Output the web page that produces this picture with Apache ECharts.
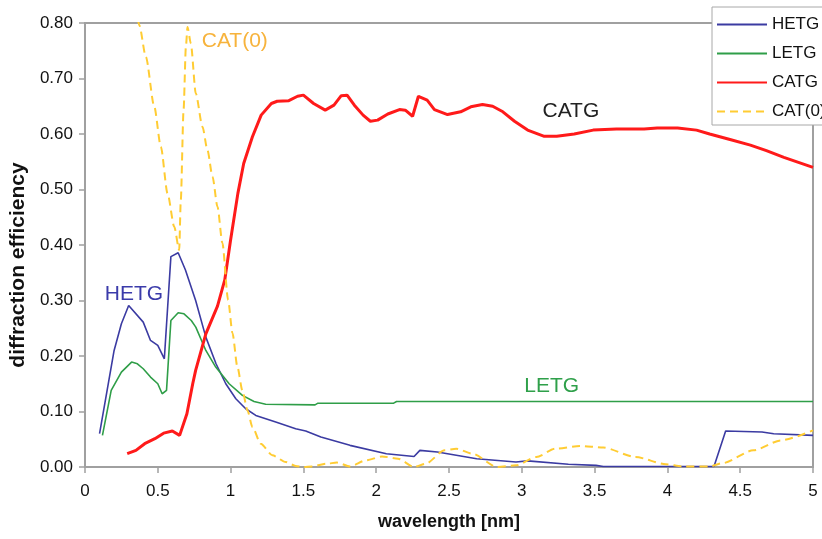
<!DOCTYPE html>
<html>
<head>
<meta charset="utf-8">
<title>diffraction efficiency</title>
<script src="https://cdn.jsdelivr.net/npm/echarts@6/dist/echarts.min.js"></script>
<style>
  html, body { margin: 0; padding: 0; background: #fff; }
  #chart { width: 822px; height: 539px; }
</style>
</head>
<body>
<div id="chart"></div>
<script>
// wavelength [nm] / efficiency
const hetgX = [0.10, 0.20, 0.25, 0.30, 0.40, 0.45, 0.50, 0.545, 0.59, 0.64, 0.69, 0.76, 0.83, 0.90, 0.967, 1.036, 1.104, 1.173, 1.31, 1.447, 1.516, 1.62, 1.82, 2.07, 2.26, 2.30, 2.42, 2.69, 2.96, 3.04, 3.32, 3.51, 3.56, 4.32, 4.40, 4.65, 4.73, 5.00]
const hetgY = [0.060, 0.210, 0.258, 0.291, 0.261, 0.228, 0.219, 0.195, 0.379, 0.386, 0.355, 0.300, 0.234, 0.186, 0.150, 0.123, 0.105, 0.093, 0.081, 0.069, 0.065, 0.054, 0.039, 0.024, 0.019, 0.030, 0.027, 0.015, 0.009, 0.011, 0.005, 0.003, 0.001, 0.001, 0.065, 0.063, 0.060, 0.057]

const letgX = [0.12, 0.18, 0.25, 0.32, 0.36, 0.40, 0.45, 0.50, 0.53, 0.56, 0.57, 0.59, 0.64, 0.68, 0.73, 0.761, 0.83, 0.898, 0.99, 1.081, 1.161, 1.241, 1.58, 1.60, 2.12, 2.14, 5.00]
const letgY = [0.057, 0.138, 0.171, 0.189, 0.186, 0.177, 0.162, 0.150, 0.132, 0.138, 0.180, 0.264, 0.278, 0.276, 0.264, 0.252, 0.210, 0.180, 0.150, 0.129, 0.118, 0.113, 0.112, 0.115, 0.115, 0.118, 0.118]

const catgX = [0.29, 0.35, 0.41, 0.48, 0.54, 0.60, 0.65, 0.70, 0.74, 0.76, 0.83, 0.91, 0.96, 1.00, 1.05, 1.09, 1.15, 1.21, 1.28, 1.32, 1.40, 1.46, 1.50, 1.57, 1.65, 1.71, 1.76, 1.80, 1.85, 1.91, 1.96, 2.01, 2.08, 2.16, 2.20, 2.25, 2.29, 2.35, 2.40, 2.49, 2.58, 2.65, 2.73, 2.80, 2.87, 2.95, 3.04, 3.15, 3.24, 3.36, 3.49, 3.65, 3.84, 3.93, 4.07, 4.20, 4.29, 4.43, 4.57, 4.68, 4.80, 5.00]
const catgY = [0.024, 0.030, 0.042, 0.051, 0.061, 0.065, 0.057, 0.096, 0.150, 0.174, 0.240, 0.290, 0.337, 0.409, 0.493, 0.547, 0.595, 0.634, 0.655, 0.659, 0.660, 0.668, 0.670, 0.655, 0.643, 0.652, 0.669, 0.670, 0.652, 0.634, 0.623, 0.625, 0.636, 0.644, 0.643, 0.632, 0.668, 0.661, 0.644, 0.635, 0.640, 0.649, 0.653, 0.650, 0.640, 0.623, 0.607, 0.596, 0.596, 0.600, 0.607, 0.609, 0.609, 0.611, 0.611, 0.607, 0.600, 0.590, 0.580, 0.570, 0.558, 0.540]

const cat0X = [0.35, 0.373, 0.418, 0.476, 0.521, 0.567, 0.613, 0.647, 0.658, 0.677, 0.693, 0.704, 0.727, 0.761, 0.807, 0.841, 0.876, 0.910, 0.944, 0.983, 1.013, 1.047, 1.081, 1.116, 1.150, 1.207, 1.287, 1.379, 1.447, 1.50, 1.56, 1.66, 1.73, 1.82, 1.93, 2.04, 2.15, 2.26, 2.34, 2.47, 2.55, 2.66, 2.83, 2.96, 3.10, 3.23, 3.40, 3.56, 3.78, 3.99, 4.10, 4.29, 4.38, 4.59, 4.78, 5.00]
const cat0Y = [0.83, 0.796, 0.739, 0.649, 0.577, 0.493, 0.433, 0.391, 0.481, 0.643, 0.757, 0.793, 0.763, 0.673, 0.613, 0.571, 0.523, 0.469, 0.403, 0.301, 0.241, 0.180, 0.138, 0.102, 0.072, 0.042, 0.021, 0.009, 0.002, 0.000, 0.001, 0.006, 0.008, 0.001, 0.012, 0.019, 0.015, 0.000, 0.006, 0.030, 0.033, 0.024, 0.000, 0.003, 0.018, 0.033, 0.038, 0.035, 0.018, 0.005, 0.001, 0.001, 0.007, 0.030, 0.048, 0.066]

const seriesNames = ['HETG', 'LETG', 'CATG', 'CAT(0)']
const xTicks = { min: 0, max: 5, interval: 0.5 }
const yTicks = { min: 0, max: 0.8, interval: 0.1 }

const font = 'Liberation Sans, Arial, sans-serif'
const axisGray = '#a0a0a0'

function pairs(xs, ys) {
  return xs.map((x, i) => [x, ys[i]])
}

// text tag sitting in the plot, anchored in data units
function tag(text, coord, color) {
  return {
    silent: true,
    symbol: 'circle',
    symbolSize: 0,
    label: { show: true, position: 'inside', formatter: text, color: color, fontSize: 21, fontFamily: font },
    data: [{ coord: coord }],
  }
}

const chart = echarts.init(document.getElementById('chart'))

const option = {
  animation: false,
  backgroundColor: '#fff',
  grid: {
    left: 84, right: 9, top: 23, bottom: 72,
    show: true,
    borderColor: axisGray,
    borderWidth: 2,
  },
  legend: {
    orient: 'vertical',
    left: 712,
    top: 7,
    itemWidth: 50,
    itemHeight: 14,
    itemGap: 12,
    padding: [9, 10, 5, 4],
    backgroundColor: '#fff',
    borderColor: '#a8a8a8',
    borderWidth: 1,
    borderRadius: 0,
    itemStyle: { opacity: 0 },
    textStyle: { fontSize: 17, color: '#111', fontFamily: font, lineHeight: 17 },
    data: seriesNames,
  },
  xAxis: {
    type: 'value',
    min: xTicks.min,
    max: xTicks.max,
    interval: xTicks.interval,
    name: 'wavelength [nm]',
    nameLocation: 'middle',
    nameGap: 46,
    nameTextStyle: { fontSize: 18, fontWeight: 'bold', color: '#111', fontFamily: font },
    axisLine: { lineStyle: { color: axisGray, width: 2 } },
    axisTick: { show: true, length: 6, lineStyle: { color: axisGray, width: 1.5 } },
    axisLabel: { fontSize: 17, color: '#111', fontFamily: font, margin: 16 },
    splitLine: { show: false },
  },
  yAxis: {
    type: 'value',
    min: yTicks.min,
    max: yTicks.max,
    interval: yTicks.interval,
    name: 'diffraction efficiency',
    nameLocation: 'middle',
    nameGap: 52,
    nameTextStyle: { fontSize: 21, fontWeight: 'bold', color: '#111', fontFamily: font, padding: [0, 40, 0, 0] },
    axisLine: { show: true, lineStyle: { color: axisGray, width: 2 } },
    axisTick: { show: true, length: 6, lineStyle: { color: axisGray, width: 1.5 } },
    axisLabel: {
      fontSize: 17, color: '#111', fontFamily: font, margin: 12,
      formatter: v => v.toFixed(2),
    },
    splitLine: { show: false },
  },
  series: [
    {
      name: 'HETG',
      type: 'line',
      symbol: 'none',
      color: '#3b3ba2',
      lineStyle: { color: '#3b3ba2', width: 1.6 },
      data: pairs(hetgX, hetgY),
      markPoint: tag('HETG', [0.336, 0.311], '#3b3baa'),
    },
    {
      name: 'LETG',
      type: 'line',
      symbol: 'none',
      color: '#2f9e48',
      lineStyle: { color: '#2f9e48', width: 1.6 },
      data: pairs(letgX, letgY),
      markPoint: tag('LETG', [3.205, 0.146], '#2fa04a'),
    },
    {
      name: 'CATG',
      type: 'line',
      symbol: 'none',
      color: '#ff1a1a',
      lineStyle: { color: '#ff1a1a', width: 3 },
      data: pairs(catgX, catgY),
      markPoint: tag('CATG', [3.337, 0.641], '#222'),
    },
    {
      name: 'CAT(0)',
      type: 'line',
      symbol: 'none',
      smooth: 0.25,
      smoothMonotone: 'x',
      color: '#ffcc33',
      lineStyle: { color: '#ffcc33', width: 2, type: [8, 5] },
      data: pairs(cat0X, cat0Y),
      markPoint: tag('CAT(0)', [1.029, 0.768], '#f7b33c'),
    },
  ],
}

chart.setOption(option)
</script>
</body>
</html>
